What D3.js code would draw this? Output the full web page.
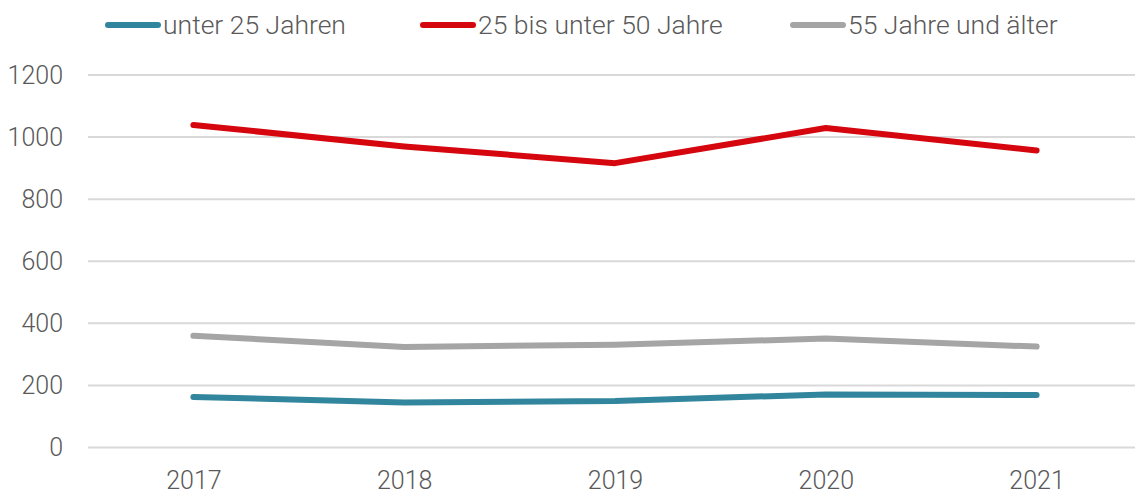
<!DOCTYPE html>
<html>
<head>
<meta charset="utf-8">
<script src="https://cdn.jsdelivr.net/npm/d3@7"></script>
<style>
  body { margin: 0; background: #fff; }
  text { font-family: Roboto, "Open Sans", sans-serif; font-weight: 300; fill: #595959; }
</style>
</head>
<body>
<script>
let years = ['2017', '2018', '2019', '2020', '2021']
let unter25 = [163, 145, 150, 171, 169]
let mitte = [1039, 970, 916, 1029, 957]
let ab55 = [360, 324, 331, 351, 325]
let yTicks = [0, 200, 400, 600, 800, 1000, 1200]
let names = ['unter 25 Jahren', '25 bis unter 50 Jahre', '55 Jahre und älter']
let colors = ['#31859c', '#d5060e', '#a5a5a5']

width = 1135
height = 496
margin = ({ 'left': 88, 'right': -7, 'top': 75, 'bottom': 48.5 })

let series = [unter25, mitte, ab55]

let svg = d3.select('body')
.append('svg')
.attr('width', width)
.attr('height', height)

let x = d3.scalePoint()
.domain(years)
.range([margin.left, width - margin.right])
.padding(0.5)

let y = d3.scaleLinear()
.domain([0, 1200])
.range([height - margin.bottom, margin.top])

// grid
svg.append('g')
.selectAll('line')
.data(yTicks)
.join('line')
    .attr('x1', margin.left)
    .attr('x2', width - margin.right)
    .attr('y1', d => y(d))
    .attr('y2', d => y(d))
    .attr('stroke', '#d9d9d9')
    .attr('stroke-width', 2)

let yAxis = d3.axisLeft(y).tickValues(yTicks).tickFormat(d3.format('d')).tickSize(0).tickPadding(25)
svg.append('g')
.attr('transform', `translate(${margin.left})`)
.call(yAxis)
.call(g => g.select('.domain').remove())
.selectAll('text')
    .attr('font-size', 25)
    .attr('fill', '#595959')
    .attr('font-family', null)

let xAxis = d3.axisBottom(x).tickSize(0).tickPadding(24)
svg.append('g')
.attr('transform', `translate(0, ${height - margin.bottom})`)
.call(xAxis)
.call(g => g.select('.domain').remove())
.selectAll('text')
    .attr('font-size', 25)
    .attr('fill', '#595959')
    .attr('font-family', null)

let line = d3.line()
.x((d, i) => x(years[i]))
.y(d => y(d))

svg.selectAll('path.series')
.data(series)
.join('path')
    .attr('class', 'series')
    .attr('d', d => line(d))
    .attr('fill', 'none')
    .attr('stroke', (d, i) => colors[i])
    .attr('stroke-width', 6)
    .attr('stroke-linecap', 'round')
    .attr('stroke-linejoin', 'round')

// legend
let legendX = [108, 423, 793]
let legend = svg.append('g')
.selectAll('g')
.data(names)
.join('g')
    .attr('transform', (d, i) => `translate(${legendX[i]}, 25)`)

legend.append('line')
    .attr('x1', 0)
    .attr('x2', 50)
    .attr('stroke', (d, i) => colors[i])
    .attr('stroke-width', 6)
    .attr('stroke-linecap', 'round')

legend.append('text')
    .attr('x', 55)
    .attr('dy', '0.35em')
    .attr('font-size', 26.5)
    .text(d => d)
</script>
</body>
</html>
